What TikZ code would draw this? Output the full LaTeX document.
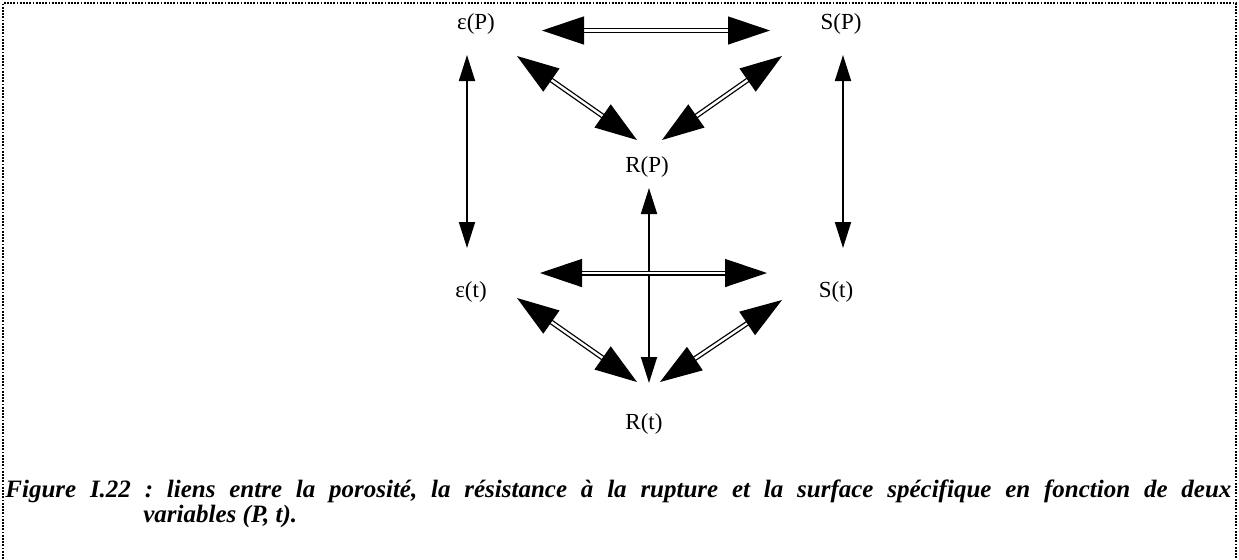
\documentclass[tikz,border=0pt]{standalone}
\usepackage{fontspec}
\setmainfont{Liberation Serif}
\usetikzlibrary{arrows.meta}

\begin{document}
\begin{tikzpicture}[x=0.5pt,y=-0.5pt,
  lbl/.style={font=\fontsize{11.5}{13}\selectfont,inner sep=0pt},
  dbl/.style={double,double distance=1.2pt,line width=0.65pt,
    {Triangle[length=21pt,width=14pt]}-{Triangle[length=21pt,width=14pt]}},
  sgl/.style={line width=0.9pt,
    {Triangle[length=13pt,width=8pt]}-{Triangle[length=13pt,width=8pt]}}]
\useasboundingbox (0,0) rectangle (1239,559);

% cadre
\draw[line width=0.8pt,dash pattern=on 0.9pt off 0.7pt] (3,559) -- (3,3) -- (1236,3) -- (1236,559);

\node[lbl] (eP) at (476,24) {ε(P)};
\node[lbl] (SP) at (841,24) {S(P)};
\node[lbl] (RP) at (647,167) {R(P)};
\node[lbl] (et) at (471,292) {ε(t)};
\node[lbl] (St) at (836,292) {S(t)};
\node[lbl] (Rt) at (644,424) {R(t)};

% en fonction de P
\draw[dbl] ([shift={(66,6.5)}]eP.center) -- ([shift={(-71,6.5)}]SP.center);
\draw[dbl] ([shift={(41,32)}]eP.center) -- ([shift={(-10,-27)}]RP.center);
\draw[dbl] ([shift={(-59,32)}]SP.center) -- ([shift={(15,-27)}]RP.center);

% liens P - t
\draw[sgl] ([shift={(-9,31)}]eP.center) -- ([shift={(-4,-44)}]et.center);
\draw[sgl] ([shift={(2,31)}]SP.center) -- ([shift={(7,-44)}]St.center);
\draw[sgl] ([shift={(2,21)}]RP.center) -- ([shift={(5,-41)}]Rt.center);

% en fonction de t
\draw[dbl] ([shift={(69,-19)}]et.center) -- ([shift={(-69,-19)}]St.center);
\draw[dbl] ([shift={(46,6)}]et.center) -- ([shift={(-7,-42)}]Rt.center);
\draw[dbl] ([shift={(-54,8)}]St.center) -- ([shift={(16,-42)}]Rt.center);

\node[anchor=north west,align=left,inner sep=0pt,font=\fontsize{12.5}{12.5}\selectfont\bfseries\itshape\frenchspacing]
  (cap) at (5,479) {\makebox[613pt][s]{Figure I.22 : liens entre la porosité, la résistance à la rupture et la surface spécifique en fonction de deux}\\
  \hspace*{69pt}variables (P, t).};
\end{tikzpicture}
\end{document}
